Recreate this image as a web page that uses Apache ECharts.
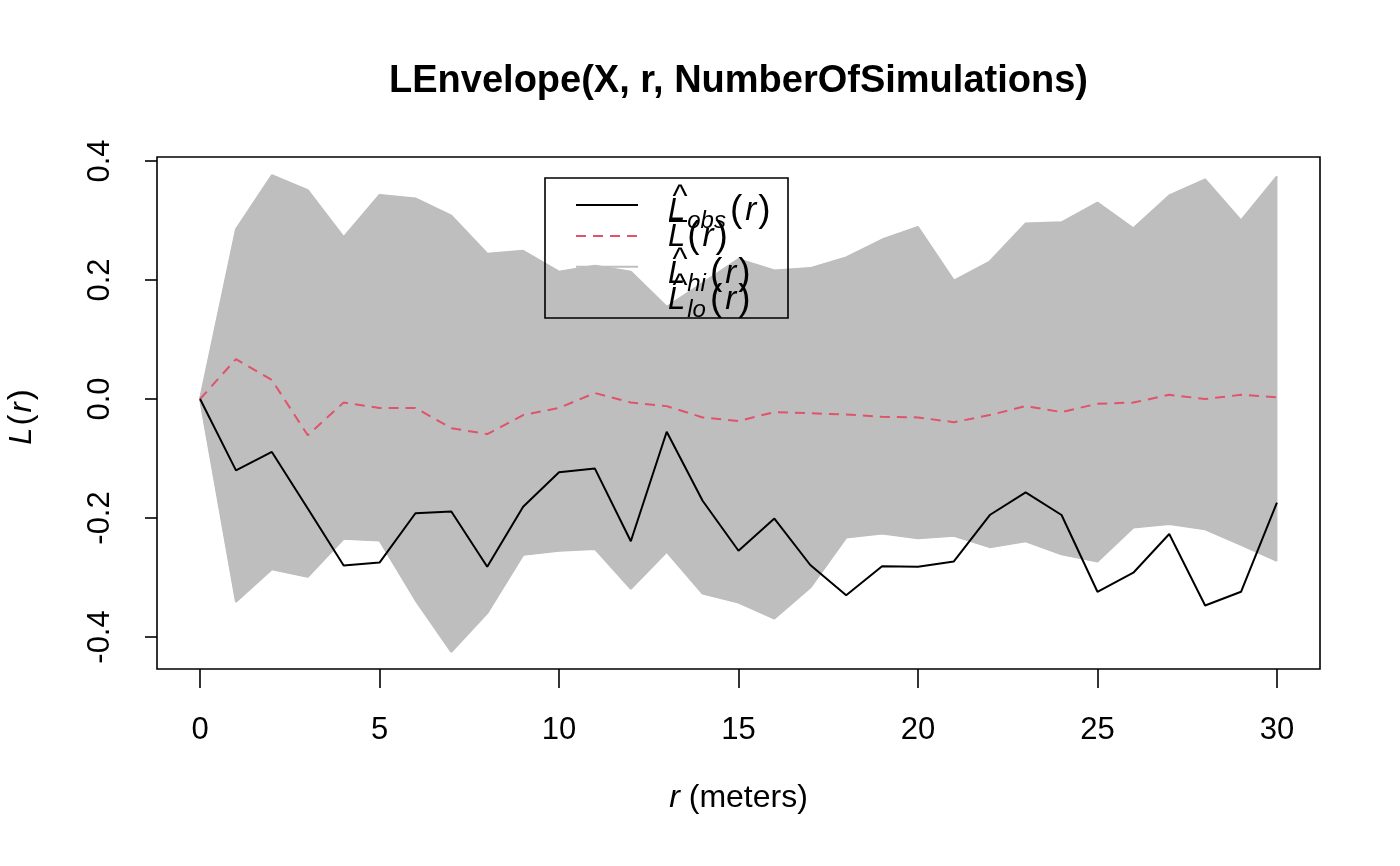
<!DOCTYPE html>
<html>
<head>
<meta charset="utf-8">
<script src="https://cdn.jsdelivr.net/npm/echarts@6/dist/echarts.min.js"></script>
<style>
  html, body { margin: 0; padding: 0; background: #fff; }
  #chart { width: 1400px; height: 866px; }
</style>
</head>
<body>
<div id="chart"></div>
<script>
// ---- data ----
const rValues = [0, 1, 2, 3, 4, 5, 6, 7, 8, 9, 10, 11, 12, 13, 14, 15, 16, 17, 18, 19, 20, 21, 22, 23, 24, 25, 26, 27, 28, 29, 30];
const obsValues = [0, -0.120, -0.089, -0.184, -0.280, -0.275, -0.192, -0.189, -0.282, -0.181, -0.123, -0.117, -0.239, -0.055, -0.171, -0.255, -0.201, -0.279, -0.330, -0.281, -0.282, -0.273, -0.195, -0.157, -0.195, -0.324, -0.292, -0.227, -0.347, -0.324, -0.174];
const theoValues = [0, 0.067, 0.032, -0.061, -0.006, -0.015, -0.015, -0.049, -0.059, -0.027, -0.015, 0.010, -0.006, -0.012, -0.031, -0.037, -0.022, -0.024, -0.026, -0.030, -0.031, -0.039, -0.027, -0.012, -0.022, -0.008, -0.006, 0.007, 0.000, 0.007, 0.003];
const hiValues = [0, 0.285, 0.376, 0.351, 0.272, 0.343, 0.337, 0.308, 0.244, 0.249, 0.214, 0.224, 0.214, 0.155, 0.195, 0.235, 0.216, 0.220, 0.238, 0.268, 0.289, 0.199, 0.231, 0.295, 0.297, 0.330, 0.287, 0.342, 0.369, 0.300, 0.374];
const loValues = [0, -0.341, -0.286, -0.299, -0.235, -0.238, -0.338, -0.425, -0.360, -0.262, -0.255, -0.252, -0.319, -0.257, -0.327, -0.342, -0.369, -0.317, -0.233, -0.226, -0.234, -0.230, -0.249, -0.239, -0.261, -0.273, -0.216, -0.210, -0.219, -0.245, -0.272];
const xTicks = [0, 5, 10, 15, 20, 25, 30];
const yTicks = [-0.4, -0.2, 0, 0.2, 0.4];

const titleText = 'LEnvelope(X, r, NumberOfSimulations)';
const seriesNames = ['obs', 'theo', 'hi', 'lo'];
// legend label pieces: subscript and accent of each entry
const legendSubs = ['obs', '', 'hi', 'lo'];
const legendAccents = ['hat', 'bar', 'hat', 'hat'];

function pairs(ys) { return rValues.map((r, i) => [r, ys[i]]); }

const FONT = '"Liberation Sans", Arial, sans-serif';
const bandColor = '#BEBEBE';
const theoColor = '#DF536B';

// ---- legend label graphics (text only; sample lines come from the legend component) ----
const labelX = 668;
const labelCenterY = [211, 237, 274, 300];
const legendGraphics = [];
seriesNames.forEach((name, i) => {
  const cy = labelCenterY[i];
  const sub = legendSubs[i];
  const txt = sub ? '{L|L}{sub|' + sub + '}{p|(}{r|r}{p|)}' : '{L|L}{p|(}{r|r}{p|)}';
  legendGraphics.push({
    type: 'text', x: labelX, y: cy, z: 30, silent: true,
    style: {
      text: txt, fill: '#000', textAlign: 'left', textVerticalAlign: 'middle',
      fontFamily: FONT, fontSize: 31, lineHeight: 44,
      rich: {
        L: { fontStyle: 'italic', fontSize: 31, fontFamily: FONT, fill: '#000', padding: [0, 2, 0, 0] },
        sub: { fontStyle: 'italic', fontSize: 24, fontFamily: FONT, fill: '#000', verticalAlign: 'bottom', padding: [0, 4, 0, 0] },
        p: { fontSize: 37, fontFamily: FONT, fill: '#000' },
        r: { fontStyle: 'italic', fontSize: 33, fontFamily: FONT, fill: '#000', padding: [0, 2, 0, 3] }
      }
    }
  });
  if (legendAccents[i] === 'hat') {
    legendGraphics.push({
      type: 'text', x: labelX + 12, y: cy - 19 + 5, z: 31, silent: true,
      style: { text: '^', font: '32px ' + FONT, fill: '#000', textAlign: 'center', textVerticalAlign: 'middle' }
    });
  } else {
    legendGraphics.push({
      type: 'line', z: 31, silent: true,
      shape: { x1: labelX + 1, y1: cy - 16, x2: labelX + 19, y2: cy - 16 },
      style: { stroke: '#000', lineWidth: 2 }
    });
  }
});

const chart = echarts.init(document.getElementById('chart'), null, { renderer: 'canvas' });

const option = {
  animation: false,
  backgroundColor: '#fff',
  textStyle: { fontFamily: FONT },
  grid: {
    left: 157, top: 157, right: 80, bottom: 197,
    show: true, borderColor: '#000', borderWidth: 1.6, backgroundColor: 'transparent',
    containLabel: false
  },
  xAxis: {
    type: 'value', min: -1.2, max: 31.2,
    axisLine: { show: false, onZero: false },
    splitLine: { show: false },
    axisTick: { show: true, length: 19, lineStyle: { color: '#000', width: 1.6 }, customValues: xTicks },
    axisLabel: { show: true, customValues: xTicks, margin: 46, fontSize: 31, color: '#000', fontFamily: FONT,
      formatter: v => String(v) }
  },
  yAxis: {
    type: 'value', min: -0.4538, max: 0.4067,
    axisLine: { show: false, onZero: false },
    splitLine: { show: false },
    axisTick: { show: true, length: 12, lineStyle: { color: '#000', width: 1.6 }, customValues: yTicks },
    axisLabel: { show: true, customValues: yTicks, rotate: 90, margin: 41, fontSize: 31, color: '#000', fontFamily: FONT,
      formatter: v => (Math.abs(v) < 1e-9 ? 0 : v).toFixed(1) }
  },
  legend: {
    show: true,
    orient: 'vertical',
    left: 575, top: 198, padding: 0,
    itemWidth: 62, itemHeight: 14, itemGap: 18.3,
    selectedMode: false,
    data: seriesNames,
    formatter: () => '',
    itemStyle: { opacity: 0 },
    textStyle: { fontSize: 1 }
  },
  graphic: [
    {
      type: 'text', x: 738.5, y: 82, z: 10,
      style: { text: titleText, font: 'bold 38px ' + FONT, fill: '#000', textAlign: 'center', textVerticalAlign: 'middle' }
    },
    {
      type: 'text', x: 738.5, y: 798, z: 10,
      style: {
        text: '{i|r} (meters)', fill: '#000', textAlign: 'center', textVerticalAlign: 'middle',
        fontSize: 32, fontFamily: FONT,
        rich: { i: { fontStyle: 'italic', fontSize: 32, fontFamily: FONT, fill: '#000' } }
      }
    },
    {
      type: 'text', x: 22, y: 418, rotation: Math.PI / 2, z: 10,
      style: {
        text: '{i|L}{p|(}{i|r}{p|)}', fill: '#000', textAlign: 'center', textVerticalAlign: 'middle',
        fontSize: 31, fontFamily: FONT,
        rich: {
          i: { fontStyle: 'italic', fontSize: 31, fontFamily: FONT, fill: '#000', padding: [0, 2, 0, 2] },
          p: { fontSize: 33, fontFamily: FONT, fill: '#000' }
        }
      }
    },
    {
      type: 'rect', z: 20, silent: true,
      shape: { x: 545, y: 178, width: 243, height: 140 },
      style: { fill: 'none', stroke: '#000', lineWidth: 1.6 }
    }
  ].concat(legendGraphics),
  series: [
    {
      type: 'custom', name: 'envelope', z: 1, silent: true,
      data: rValues.map((r, i) => [r, hiValues[i], loValues[i]]),
      encode: { x: 0, y: [1, 2] },
      renderItem: function (params, api) {
        if (params.dataIndex !== 0) return null;
        const pts = [];
        for (let i = 0; i < rValues.length; i++) pts.push(api.coord([rValues[i], hiValues[i]]));
        for (let i = rValues.length - 1; i >= 0; i--) pts.push(api.coord([rValues[i], loValues[i]]));
        return { type: 'polygon', shape: { points: pts }, style: { fill: bandColor, stroke: bandColor, lineWidth: 1 } };
      }
    },
    {
      type: 'line', name: 'hi', data: pairs(hiValues), symbol: 'none', z: 2,
      color: bandColor, lineStyle: { color: bandColor, width: 2 }
    },
    {
      type: 'line', name: 'lo', data: pairs(loValues), symbol: 'none', z: 2,
      color: bandColor, lineStyle: { color: bandColor, width: 2 }
    },
    {
      type: 'line', name: 'theo', data: pairs(theoValues), symbol: 'none', z: 3,
      color: theoColor, lineStyle: { color: theoColor, width: 2, type: [10, 7] }
    },
    {
      type: 'line', name: 'obs', data: pairs(obsValues), symbol: 'none', z: 4,
      color: '#000', lineStyle: { color: '#000', width: 2 }
    }
  ]
};

chart.setOption(option);
</script>
</body>
</html>
